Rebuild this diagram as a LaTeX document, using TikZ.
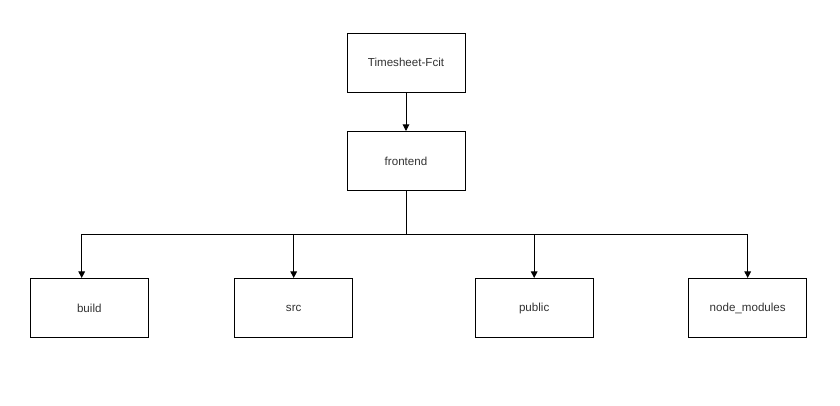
\documentclass[tikz,border=0pt]{standalone}
\usepackage{fontspec}
\setmainfont{Liberation Sans}
\usetikzlibrary{arrows.meta}
\begin{document}
\begin{tikzpicture}[x=0.75pt,y=-0.75pt,
  box/.style={draw=black,line width=0.75pt,fill=white,minimum width=88.5pt,minimum height=44.25pt,inner sep=0pt,font=\fontsize{8.7pt}{10pt}\selectfont,text=black!80},
  conn/.style={line width=0.75pt,draw=black},
  arr/.style={conn,-{Triangle[length=5pt,width=5pt]}}]
\useasboundingbox (0,0) rectangle (840,405);
\node[box] (root) at (406,62.5) {Timesheet-Fcit};
\node[box] (frontend) at (406,161) {frontend};
\node[box] (build) at (89.3,308) {build};
\node[box] (src) at (293.7,308) {src};
\node[box] (public) at (534.2,308) {public};
\node[box] (nm) at (747.7,308) {node\_modules};
\coordinate (j) at (406,234);
\coordinate (b1) at (81.7,234);
\coordinate (b4) at (747.7,234);
\draw[arr] (root) -- (frontend);
\draw[conn] (frontend.south) -- (j);
\draw[conn] (b1) -- (b4);
\draw[arr] (b1) -- (b1 |- build.north);
\draw[arr] (j -| src) -- (src.north);
\draw[arr] (j -| public) -- (public.north);
\draw[arr] (b4) -- (nm.north);
\end{tikzpicture}
\end{document}
